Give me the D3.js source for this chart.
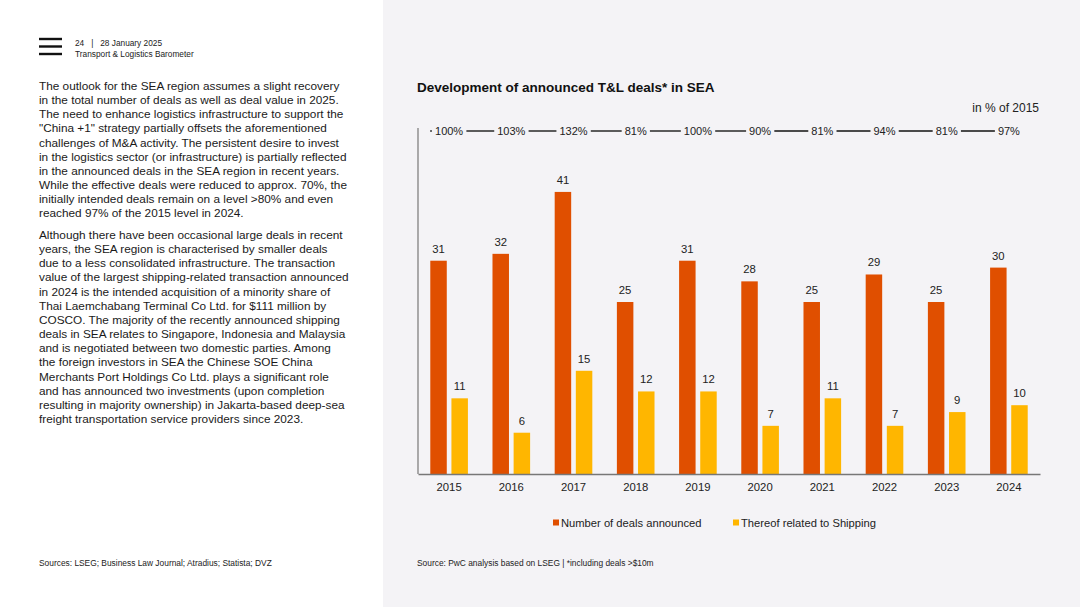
<!DOCTYPE html>
<html>
<head>
<meta charset="utf-8">
<script src="https://cdn.jsdelivr.net/npm/d3@7"></script>
<style>
  html, body { margin: 0; padding: 0; background: #fff; }
  svg { display: block; font-family: "Liberation Sans", Arial, sans-serif; }
</style>
</head>
<body>
<svg id="page" width="1080" height="607"></svg>
<script>
// chart data
var years = ['2015', '2016', '2017', '2018', '2019', '2020', '2021', '2022', '2023', '2024'];
var dealsAnnounced = [31, 32, 41, 25, 31, 28, 25, 29, 25, 30];
var shippingDeals = [11, 6, 15, 12, 12, 7, 11, 7, 9, 10];
var pctOf2015 = ['100%', '103%', '132%', '81%', '100%', '90%', '81%', '94%', '81%', '97%'];
var seriesNames = ['Number of deals announced', 'Thereof related to Shipping'];
var seriesColors = ['#e04f00', '#ffb600'];

// left page text
var para1 = [
  'The outlook for the SEA region assumes a slight recovery',
  'in the total number of deals as well as deal value in 2025.',
  'The need to enhance logistics infrastructure to support the',
  '"China +1" strategy partially offsets the aforementioned',
  'challenges of M&A activity. The persistent desire to invest',
  'in the logistics sector (or infrastructure) is partially reflected',
  'in the announced deals in the SEA region in recent years.',
  'While the effective deals were reduced to approx. 70%, the',
  'initially intended deals remain on a level >80% and even',
  'reached 97% of the 2015 level in 2024.'
];
var para2 = [
  'Although there have been occasional large deals in recent',
  'years, the SEA region is characterised by smaller deals',
  'due to a less consolidated infrastructure. The transaction',
  'value of the largest shipping-related transaction announced',
  'in 2024 is the intended acquisition of a minority share of',
  'Thai Laemchabang Terminal Co Ltd. for $111 million by',
  'COSCO. The majority of the recently announced shipping',
  'deals in SEA relates to Singapore, Indonesia and Malaysia',
  'and is negotiated between two domestic parties. Among',
  'the foreign investors in SEA the Chinese SOE China',
  'Merchants Port Holdings Co Ltd. plays a significant role',
  'and has announced two investments (upon completion',
  'resulting in majority ownership) in Jakarta-based deep-sea',
  'freight transportation service providers since 2023.'
];

var svg = d3.select('#page');

/* Left page */
var left = svg.append('g').attr('class', 'left');

// menu icon
[39, 46.5, 54].forEach(function (y) {
  left.append('rect')
    .attr('x', 39).attr('y', y - 1.2)
    .attr('width', 23).attr('height', 2.4)
    .attr('fill', '#111');
});

left.append('text')
  .attr('x', 75).attr('y', 45.5)
  .attr('font-size', 8.3).attr('fill', '#222')
  .style('white-space', 'pre')
  .text('24   |   28 January 2025');
left.append('text')
  .attr('x', 75).attr('y', 57)
  .attr('font-size', 8.3).attr('fill', '#222')
  .text('Transport & Logistics Barometer');

function paragraph(lines, y0) {
  left.append('text')
    .attr('font-size', 11.8)
    .attr('fill', '#1a1a1a')
    .selectAll('tspan')
    .data(lines)
    .enter()
    .append('tspan')
    .attr('x', 39)
    .attr('y', function (d, i) { return y0 + i * 14.15; })
    .text(function (d) { return d; });
}
paragraph(para1, 90);
paragraph(para2, 239);

left.append('text')
  .attr('x', 39).attr('y', 566)
  .attr('font-size', 8.4).attr('fill', '#222')
  .text('Sources: LSEG; Business Law Journal; Atradius; Statista; DVZ');

/* Right page */
svg.append('rect')
  .attr('x', 383).attr('y', 0)
  .attr('width', 697).attr('height', 607)
  .attr('fill', '#f4f3f6');

var chart = svg.append('g').attr('class', 'chart');

chart.append('text')
  .attr('x', 417).attr('y', 92)
  .attr('font-size', 13.5).attr('font-weight', 'bold').attr('fill', '#111')
  .text('Development of announced T&L deals* in SEA');

chart.append('text')
  .attr('x', 1039).attr('y', 112)
  .attr('text-anchor', 'end')
  .attr('font-size', 12).attr('fill', '#222')
  .text('in % of 2015');

var x0 = d3.scaleBand()
  .domain(years)
  .range([418, 1040])
  .paddingInner(0.395)
  .paddingOuter(0.1975);

var x1 = d3.scaleBand()
  .domain([0, 1])
  .range([0, x0.bandwidth()])
  .paddingInner(0.22);

var y = d3.scaleLinear()
  .domain([0, 50])
  .range([474, 130]);

// bars
var groups = chart.append('g')
  .selectAll('g.year')
  .data(years)
  .enter()
  .append('g')
  .attr('class', 'year')
  .attr('transform', function (d) { return 'translate(' + x0(d) + ',0)'; });

groups.selectAll('rect')
  .data(function (d, i) { return [dealsAnnounced[i], shippingDeals[i]]; })
  .enter()
  .append('rect')
  .attr('x', function (d, j) { return x1(j); })
  .attr('y', function (d) { return y(d); })
  .attr('width', x1.bandwidth())
  .attr('height', function (d) { return y(0) - y(d); })
  .attr('fill', function (d, j) { return seriesColors[j]; });

groups.selectAll('text.val')
  .data(function (d, i) { return [dealsAnnounced[i], shippingDeals[i]]; })
  .enter()
  .append('text')
  .attr('class', 'val')
  .attr('x', function (d, j) { return x1(j) + x1.bandwidth() / 2; })
  .attr('y', function (d) { return y(d) - 8; })
  .attr('text-anchor', 'middle')
  .attr('font-size', 11.3).attr('fill', '#222')
  .text(function (d) { return d; });

// axes
var xAxis = chart.append('g')
  .attr('transform', 'translate(0,' + y(0) + ')')
  .call(d3.axisBottom(x0).tickSize(0).tickPadding(9).tickSizeOuter(0));
xAxis.select('.domain').attr('stroke', '#777').attr('stroke-width', 1.5);
xAxis.selectAll('text')
  .attr('font-size', 11.3).attr('fill', '#222')
  .attr('font-family', '"Liberation Sans", Arial, sans-serif');

chart.append('line')
  .attr('x1', 418).attr('x2', 418)
  .attr('y1', 128).attr('y2', y(0))
  .attr('stroke', '#777').attr('stroke-width', 1.2);

// percent-of-2015 row
var pctY = 131;
var pct = chart.append('g').attr('class', 'pct');
var pctText = pct.selectAll('text')
  .data(pctOf2015)
  .enter()
  .append('text')
  .attr('x', function (d, i) { return x0(years[i]) + x0.bandwidth() / 2; })
  .attr('y', pctY + 4)
  .attr('text-anchor', 'middle')
  .attr('font-size', 11).attr('fill', '#222')
  .text(function (d) { return d; });

var boxes = [];
pctText.each(function () { boxes.push(this.getBBox()); });
for (var i = 0; i < boxes.length - 1; i++) {
  pct.append('line')
    .attr('x1', boxes[i].x + boxes[i].width + 3)
    .attr('x2', boxes[i + 1].x - 3)
    .attr('y1', pctY).attr('y2', pctY)
    .attr('stroke', '#4a4a4a').attr('stroke-width', 1.8);
}
pct.append('line')
  .attr('x1', boxes[0].x - 5).attr('x2', boxes[0].x - 3)
  .attr('y1', pctY).attr('y2', pctY)
  .attr('stroke', '#4a4a4a').attr('stroke-width', 1.6);

// legend
var legend = chart.append('g').attr('class', 'legend');
var legendX = [553, 733];
seriesNames.forEach(function (name, i) {
  legend.append('rect')
    .attr('x', legendX[i]).attr('y', 519.5)
    .attr('width', 6).attr('height', 6)
    .attr('fill', seriesColors[i]);
  legend.append('text')
    .attr('x', legendX[i] + 8).attr('y', 527)
    .attr('font-size', 11.2).attr('fill', '#222')
    .text(name);
});

chart.append('text')
  .attr('x', 417).attr('y', 566)
  .attr('font-size', 8.4).attr('fill', '#222')
  .text('Source: PwC analysis based on LSEG | *including deals >$10m');
</script>
</body>
</html>
